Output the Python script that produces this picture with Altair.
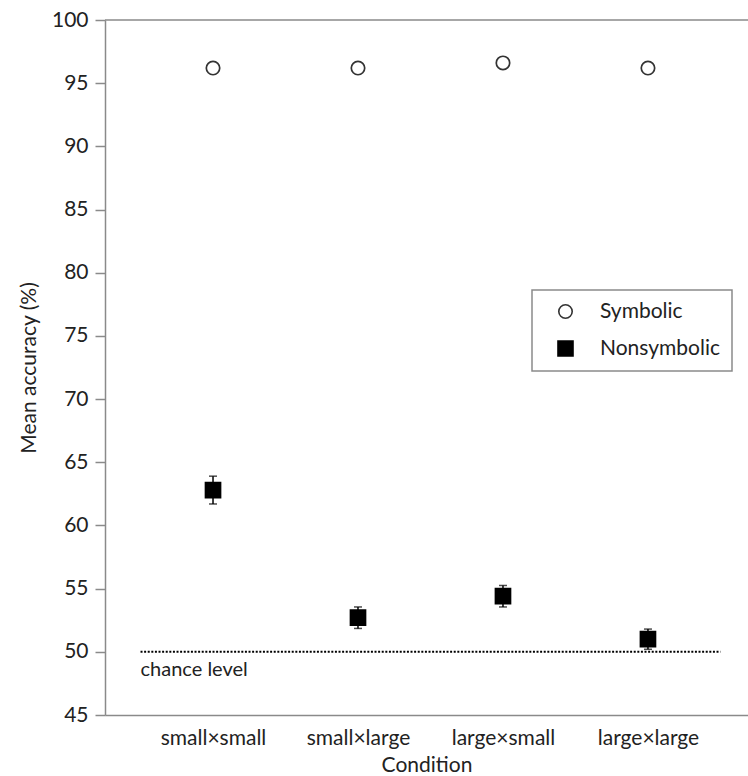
import json
import altair as alt
import pandas as pd

conditions = ["small×small", "small×large", "large×small", "large×large"]
cond_index = [1, 2, 3, 4]
symbolic = [96.2, 96.2, 96.6, 96.2]
nonsymbolic = [62.8, 52.7, 54.4, 51.0]
nonsym_err = [1.1, 0.85, 0.85, 0.8]
series_names = ["Symbolic", "Nonsymbolic"]
chance_value = 50
chance_span = [0.5, 4.5]
chance_label = "chance level"
y_ticks = [45, 50, 55, 60, 65, 70, 75, 80, 85, 90, 95, 100]

FONT = "Lato"

rows = []
for i, c in enumerate(conditions):
    rows.append({"idx": cond_index[i], "cond": c, "series": "Symbolic",
                 "value": symbolic[i], "lo": symbolic[i], "hi": symbolic[i]})
    rows.append({"idx": cond_index[i], "cond": c, "series": "Nonsymbolic",
                 "value": nonsymbolic[i], "lo": nonsymbolic[i] - nonsym_err[i],
                 "hi": nonsymbolic[i] + nonsym_err[i]})
df = pd.DataFrame(rows)
df_ns = df[df.series == "Nonsymbolic"]

chance_df = pd.DataFrame({"x": [chance_span[0]], "x2": [chance_span[1]],
                          "y": [chance_value], "label": [chance_label]})

label_expr = "%s[datum.value - 1]" % json.dumps(conditions, ensure_ascii=False)

xscale = alt.Scale(domain=[0.255, 4.69], nice=False, zero=False)
yscale = alt.Scale(domain=[45, 100], nice=False, zero=False)

x_enc = alt.X("idx:Q", scale=xscale, title="Condition",
              axis=alt.Axis(values=cond_index, labelExpr=label_expr, grid=False,
                            ticks=False, tickSize=0, labelPadding=12,
                            titlePadding=6))
y_enc = alt.Y("value:Q", scale=yscale, title="Mean accuracy (%)",
              axis=alt.Axis(values=y_ticks, grid=False, tickSize=10,
                            labelPadding=7, titlePadding=12))

top_line = alt.Chart(chance_df).mark_rule(color="#8a8a8a", strokeWidth=1.5).encode(
    y=alt.datum(100, scale=yscale)
)

chance = alt.Chart(chance_df).mark_rule(color="black", strokeWidth=2,
                                        strokeDash=[2, 1.6]).encode(
    x=alt.X("x:Q", scale=xscale), x2="x2:Q", y=alt.Y("y:Q", scale=yscale)
)
chance_text = alt.Chart(chance_df).mark_text(
    align="left", baseline="top", dx=0, dy=8, fontSize=20, font=FONT, color="#222"
).encode(x=alt.X("x:Q", scale=xscale), y=alt.Y("y:Q", scale=yscale), text="label:N")

err = alt.Chart(df_ns).mark_errorbar(ticks={"size": 8}, thickness=1.5,
                                     color="black", orient="vertical").encode(
    x=alt.X("idx:Q", scale=xscale), y=alt.Y("lo:Q", scale=yscale, title=""), y2="hi:Q"
)

pts = alt.Chart(df).mark_point(opacity=1, strokeWidth=1.7).encode(
    x=x_enc, y=y_enc,
    shape=alt.Shape("series:N", scale=alt.Scale(domain=series_names, range=["circle", "square"]),
                    legend=alt.Legend(title=None)),
    fill=alt.Fill("series:N", scale=alt.Scale(domain=series_names, range=["white", "black"]),
                  legend=alt.Legend(title=None)),
    stroke=alt.Stroke("series:N", scale=alt.Scale(domain=series_names, range=["#333333", "black"]),
                      legend=alt.Legend(title=None)),
    size=alt.Size("series:N", scale=alt.Scale(domain=series_names, range=[180, 225]),
                  legend=alt.Legend(title=None)),
)

chart = alt.layer(top_line, chance, chance_text, err, pts).properties(
    width=643, height=695,
    autosize=alt.AutoSizeParams(type="none"),
    padding={"left": 105, "top": 20, "right": 0, "bottom": 61},
).configure_view(stroke=None).configure_axis(
    domainColor="#8a8a8a", domainWidth=1.5, tickColor="#8a8a8a", tickWidth=1.5,
    labelFont=FONT, labelFontSize=21, labelColor="#222", titleFont=FONT,
    titleFontSize=21, titleFontWeight="normal", titleColor="#222"
).configure_legend(
    orient="none", legendX=427, legendY=270, padding=11, strokeColor="#8a8a8a",
    strokeWidth=1.5, fillColor="white", labelFont=FONT, labelFontSize=21,
    labelColor="#222", rowPadding=15, symbolOffset=12, labelOffset=24,
    symbolSize=170, symbolStrokeWidth=1.6
)

chart.save("out.html", embed_options={"renderer": "svg", "actions": False})
